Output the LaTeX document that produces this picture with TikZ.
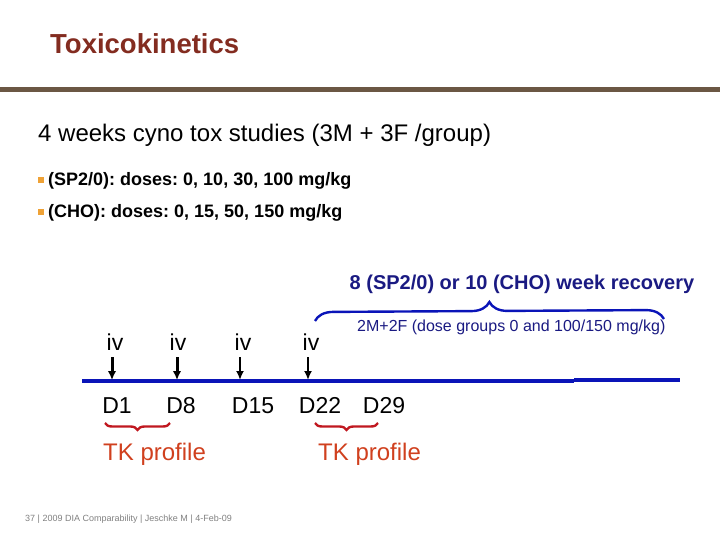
\documentclass[tikz,border=0pt]{standalone}
\usepackage{fontspec}
\setmainfont{Liberation Sans}
\usepackage{xcolor}
\usetikzlibrary{arrows.meta,decorations.pathreplacing}
\frenchspacing

\definecolor{titlered}{HTML}{832C20}
\definecolor{rulebrown}{HTML}{6B5744}
\definecolor{bulletorange}{HTML}{EFA236}
\definecolor{lineblue}{HTML}{0A14B8}
\definecolor{navy}{HTML}{1A1A82}
\definecolor{tkred}{HTML}{D0401E}
\definecolor{bracered}{HTML}{C01820}

\begin{document}
\begin{tikzpicture}[
  x=1pt, y=-1pt,
  txt/.style={anchor=base west, inner sep=0pt},
  lbl/.style={anchor=base, inner sep=0pt, font=\fontsize{23}{26}\selectfont},
  dose/.style={-{Latex[length=9pt,width=8.5pt]}, line width=3pt},
  dosethin/.style={-{Latex[length=9pt,width=8pt]}, line width=2.2pt},
  bluebrace/.style={decorate, decoration={brace, amplitude=18pt}, lineblue, line width=2.4pt},
  redbrace/.style={decorate, decoration={brace, mirror, amplitude=7pt}, bracered, line width=2.4pt}
]
\useasboundingbox (0,0) rectangle (720,540);

% header
\node[txt, text=titlered, font=\fontsize{27.5}{31}\selectfont\bfseries] (title) at (50,54) {Toxicokinetics};
\fill[rulebrown] (0,87.5) rectangle (720,92.5);

% study description
\node[txt, font=\fontsize{24}{28}\selectfont] (study) at (38,142) {4 weeks cyno tox studies (3M + 3F /group)};
\fill[bulletorange] (38,177) rectangle (44,183);
\node[txt, font=\fontsize{18}{21}\selectfont\bfseries] (sp) at (48,186) {(SP2/0): doses: 0, 10, 30, 100 mg/kg};
\fill[bulletorange] (38,209) rectangle (44,215);
\node[txt, font=\fontsize{18}{21}\selectfont\bfseries] (cho) at (48,218) {(CHO): doses: 0, 15, 50, 150 mg/kg};

% recovery
\node[anchor=base, inner sep=0pt, text=navy, font=\fontsize{20}{24}\selectfont\bfseries] (recov) at (522,289) {8 (SP2/0) or 10 (CHO) week recovery};
\coordinate (bl) at (315,321);
\coordinate (br) at (664,319);
\draw[bluebrace] (bl) -- (br);
\node[txt, text=navy, font=\fontsize{16}{19}\selectfont] (group) at (357,331) {2M+2F (dose groups 0 and 100/150 mg/kg)};

% dosing
\node[lbl] (iv1) at (115,350) {iv};
\node[lbl] (iv2) at (178,350) {iv};
\node[lbl] (iv3) at (243,350) {iv};
\node[lbl] (iv4) at (311,350) {iv};
\coordinate (a1) at (112,357);
\coordinate (a2) at (177,357);
\coordinate (a3) at (240,357);
\coordinate (a4) at (308,357);
\coordinate (t1) at (112,380);
\coordinate (t2) at (177,380);
\coordinate (t3) at (240,380);
\coordinate (t4) at (308,380);

% timeline
\coordinate (l0) at (82,381);
\coordinate (l1) at (574,381);
\coordinate (l2) at (574,379.5);
\coordinate (l3) at (680,379.5);
\draw[lineblue, line width=4pt] (l0) -- (l1);
\draw[lineblue, line width=4pt] (l2) -- (l3);
\draw[dose] (a1) -- (t1);
\draw[dose] (a2) -- (t2);
\draw[dosethin] (a3) -- (t3);
\draw[dosethin] (a4) -- (t4);

% days
\node[lbl] (d1) at (117,413) {D1};
\node[lbl] (d8) at (181,413) {D8};
\node[lbl] (d15) at (253,413) {D15};
\node[lbl] (d22) at (320,413) {D22};
\node[lbl] (d29) at (384,413) {D29};

% TK sampling
\coordinate (r1) at (105,423);
\coordinate (r2) at (170,423);
\coordinate (r3) at (315,423);
\coordinate (r4) at (378,423);
\draw[redbrace] (r1) -- (r2);
\draw[redbrace] (r3) -- (r4);
\node[txt, text=tkred, font=\fontsize{24}{28}\selectfont] (tk1) at (103,460) {TK profile};
\node[txt, text=tkred, font=\fontsize{24}{28}\selectfont] (tk2) at (318,460) {TK profile};

% footer
\node[txt, text=gray, font=\fontsize{9}{11}\selectfont] (foot) at (25,521) {37 | 2009 DIA Comparability | Jeschke M | 4-Feb-09};
\end{tikzpicture}
\end{document}
